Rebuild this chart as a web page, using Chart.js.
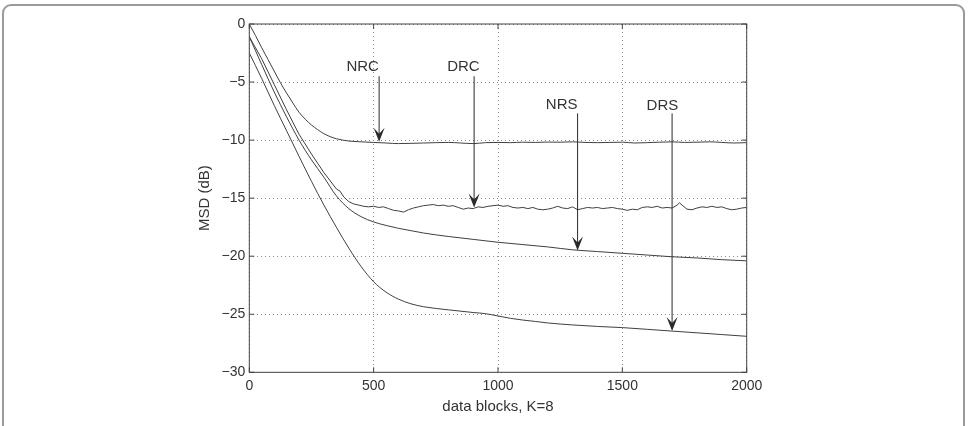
<!DOCTYPE html>
<html>
<head>
<meta charset="utf-8">
<script src="https://cdn.jsdelivr.net/npm/chart.js@4"></script>
<style>
  html, body { margin: 0; padding: 0; background: #fff; }
  #wrap { position: relative; width: 970px; height: 426px; overflow: hidden; }
  #moldura { position: absolute; left: 2px; top: 4px; width: 963px; height: 460px;
             border: 2px solid #9a9a9a; border-radius: 9px; box-sizing: border-box; }
  #myChart { position: absolute; left: 0; top: 0; }
</style>
</head>
<body>
<div id="wrap">
  <div id="moldura"></div>
  <canvas id="myChart" width="970" height="426"></canvas>
</div>
<script>
// curvas MSD (dB) x blocos de dados
const nrcX = [0, 25, 50, 75, 100, 125, 150, 175, 200, 225, 250, 275, 300, 325, 350, 375, 400, 450,
  500, 550, 600, 650, 700, 750, 800, 850, 900, 950, 1000, 1050, 1100, 1150, 1200, 1250, 1300, 1350,
  1400, 1450, 1500, 1550, 1600, 1650, 1700, 1750, 1800, 1850, 1900, 1950, 2000];
const nrcY = [0, -1.0, -2.05, -3.05, -4.05, -5.05, -5.95, -6.8, -7.6, -8.2, -8.7, -9.1, -9.45, -9.7, -9.88, -10.0, -10.08, -10.15,
  -10.2, -10.25, -10.3, -10.28, -10.25, -10.22, -10.2, -10.25, -10.3, -10.22, -10.2, -10.22, -10.18, -10.2, -10.17, -10.18, -10.15, -10.2,
  -10.22, -10.2, -10.18, -10.25, -10.22, -10.18, -10.15, -10.2, -10.18, -10.15, -10.2, -10.25, -10.22];

const drcX = [0, 50, 100, 150, 200, 250, 275, 300, 325, 350, 365, 380, 400, 420, 440, 460, 480,
  500, 520, 540, 560, 580, 600, 620, 640, 660, 680, 700, 720, 740, 760, 780, 800, 820, 840, 860, 880,
  900, 920, 940, 960, 980, 1000, 1020, 1040, 1060, 1080, 1100, 1120, 1140, 1160, 1180, 1200, 1220, 1240,
  1260, 1280, 1300, 1320, 1340, 1360, 1380, 1400, 1420, 1440, 1460, 1480, 1500, 1520, 1540, 1560, 1580,
  1600, 1620, 1640, 1660, 1680, 1700, 1720, 1730, 1740, 1760, 1780, 1800, 1820, 1840, 1860, 1880, 1900,
  1920, 1940, 1960, 1980, 2000];
const drcY = [-1.1, -3.0, -5.2, -7.4, -9.5, -11.2, -12.0, -12.8, -13.5, -14.2, -14.4, -14.9, -15.3, -15.5, -15.6, -15.7, -15.75,
  -15.7, -15.8, -15.75, -15.9, -16.05, -16.1, -16.2, -16.0, -15.85, -15.75, -15.65, -15.6, -15.55, -15.65, -15.6, -15.7, -15.65, -15.8, -15.95, -15.85,
  -15.9, -15.75, -15.8, -15.7, -15.65, -15.6, -15.7, -15.65, -15.8, -15.85, -15.8, -15.9, -15.8, -15.95, -16.0, -15.95, -15.85, -15.7,
  -15.85, -15.9, -15.75, -16.0, -15.9, -15.8, -15.85, -15.8, -15.9, -15.85, -15.8, -15.9, -15.95, -16.05, -15.95, -16.0, -15.8,
  -15.75, -15.8, -15.7, -15.85, -15.8, -15.85, -15.6, -15.4, -15.6, -15.95, -16.0, -15.85, -15.75, -15.8, -15.7, -15.8, -15.75,
  -15.9, -16.0, -15.95, -15.85, -15.8];

const nrsX = [0, 50, 100, 150, 200, 250, 300, 350, 400, 450, 500, 550, 600, 650, 700, 800, 900, 1000,
  1100, 1200, 1300, 1400, 1500, 1600, 1700, 1800, 1900, 2000];
const nrsY = [-1.1, -3.5, -5.85, -8.0, -10.0, -11.7, -13.2, -14.8, -15.9, -16.6, -17.05, -17.35, -17.6, -17.8, -18.0, -18.3, -18.55, -18.8,
  -19.0, -19.2, -19.45, -19.6, -19.75, -19.9, -20.05, -20.15, -20.3, -20.4];

const drsX = [0, 50, 100, 150, 200, 250, 300, 350, 400, 450, 500, 550, 600, 650, 700, 800, 900, 950, 1000,
  1050, 1100, 1150, 1200, 1300, 1400, 1500, 1600, 1700, 1800, 1900, 2000];
const drsY = [-2.5, -4.7, -7.0, -9.2, -11.4, -13.55, -15.6, -17.5, -19.3, -20.9, -22.2, -23.1, -23.7, -24.1, -24.35, -24.62, -24.85, -24.95, -25.15,
  -25.35, -25.5, -25.62, -25.75, -25.92, -26.05, -26.15, -26.3, -26.45, -26.6, -26.75, -26.9];

// setas com rotulo (em unidades dos eixos)
const setaNomes = ['NRC', 'DRC', 'NRS', 'DRS'];
const setaX = [522, 904, 1320, 1700];
const setaTopo = [-4.5, -4.5, -7.7, -7.7];
const setaPonta = [-10.14, -15.8, -19.5, -26.45];
const rotuloX = [456, 861, 1256, 1661];
const rotuloY = [-3.68, -3.65, -6.93, -7.05];

const xTicks = [0, 500, 1000, 1500, 2000];
const yTicks = [-30, -25, -20, -15, -10, -5, 0];

const corLinha = '#404040';
const corTexto = '#333';

function pontos(xs, ys) {
  return xs.map((x, i) => ({ x: x, y: ys[i] }));
}

function serie(nome, xs, ys, suave) {
  return {
    label: nome,
    data: pontos(xs, ys),
    borderColor: corLinha,
    borderWidth: 1,
    pointRadius: 0,
    fill: false,
    tension: suave ? 0.4 : 0,
    cubicInterpolationMode: suave ? 'monotone' : 'default'
  };
}

const molduraPlugin = {
  id: 'moldura',
  afterDatasetsDraw(chart) {
    const { ctx, chartArea: a, scales } = chart;
    ctx.save();
    ctx.strokeStyle = '#444';
    ctx.lineWidth = 1;
    ctx.strokeRect(a.left, a.top, a.right - a.left, a.bottom - a.top);
    ctx.beginPath();
    xTicks.forEach(v => {
      const px = scales.x.getPixelForValue(v);
      ctx.moveTo(px, a.bottom); ctx.lineTo(px, a.bottom - 5);
      ctx.moveTo(px, a.top); ctx.lineTo(px, a.top + 5);
    });
    yTicks.forEach(v => {
      const py = scales.y.getPixelForValue(v);
      ctx.moveTo(a.left, py); ctx.lineTo(a.left + 5, py);
      ctx.moveTo(a.right, py); ctx.lineTo(a.right - 5, py);
    });
    ctx.stroke();
    ctx.restore();
  }
};

const setasPlugin = {
  id: 'setas',
  afterDatasetsDraw(chart) {
    const { ctx, scales } = chart;
    ctx.save();
    ctx.strokeStyle = '#2a2a2a';
    ctx.fillStyle = '#2a2a2a';
    ctx.lineWidth = 1;
    ctx.font = '15px "Liberation Sans", Arial, sans-serif';
    ctx.textAlign = 'center';
    ctx.textBaseline = 'middle';
    setaNomes.forEach((nome, i) => {
      const px = scales.x.getPixelForValue(setaX[i]);
      const y0 = scales.y.getPixelForValue(setaTopo[i]);
      const y1 = scales.y.getPixelForValue(setaPonta[i]);
      ctx.beginPath();
      ctx.moveTo(px, y0);
      ctx.lineTo(px, y1 - 6);
      ctx.stroke();
      ctx.beginPath();
      ctx.moveTo(px, y1);
      ctx.lineTo(px - 5.5, y1 - 14);
      ctx.lineTo(px, y1 - 8);
      ctx.lineTo(px + 5.5, y1 - 14);
      ctx.closePath();
      ctx.fill();
      ctx.fillStyle = corTexto;
      ctx.fillText(nome, scales.x.getPixelForValue(rotuloX[i]), scales.y.getPixelForValue(rotuloY[i]));
      ctx.fillStyle = '#2a2a2a';
    });
    ctx.restore();
  }
};

const fonteEixo = { family: '"Liberation Sans", Arial, sans-serif', size: 14 };
const fonteTitulo = { family: '"Liberation Sans", Arial, sans-serif', size: 15 };

const ctx = document.getElementById('myChart').getContext('2d');
const grafico = new Chart(ctx, {
  type: 'line',
  data: {
    datasets: [
      serie('NRC', nrcX, nrcY, true),
      serie('DRC', drcX, drcY, false),
      serie('NRS', nrsX, nrsY, true),
      serie('DRS', drsX, drsY, true)
    ]
  },
  options: {
    responsive: false,
    devicePixelRatio: 1,
    animation: false,
    layout: { padding: { left: 0, top: 24, right: 223.3, bottom: 0 } },
    plugins: {
      legend: { display: false },
      tooltip: { enabled: false }
    },
    scales: {
      x: {
        type: 'linear',
        min: 0,
        max: 2000,
        afterFit: (s) => { s.height = 53.7; },
        afterBuildTicks: (s) => { s.ticks = xTicks.map(v => ({ value: v })); },
        ticks: { color: corTexto, font: fonteEixo, padding: 5, maxRotation: 0,
          callback: (v) => String(v) },
        grid: { color: '#8a8a8a', lineWidth: 1, drawTicks: false },
        border: { display: false, dash: [1, 3] },
        title: { display: true, text: 'data blocks, K=8', color: corTexto, font: fonteTitulo, padding: { top: 0, bottom: 10 } }
      },
      y: {
        type: 'linear',
        min: -30,
        max: 0,
        afterFit: (s) => { s.width = 249.3; },
        afterBuildTicks: (s) => { s.ticks = yTicks.map(v => ({ value: v })); },
        ticks: {
          color: corTexto, font: fonteEixo, padding: 4,
          callback: (v) => String(v).replace('-', '\u2212')
        },
        grid: { color: '#8a8a8a', lineWidth: 1, drawTicks: false },
        border: { display: false, dash: [1, 3] },
        title: { display: true, text: 'MSD (dB)', color: corTexto, font: fonteTitulo, padding: { top: 196, bottom: 0 } }
      }
    }
  },
  plugins: [molduraPlugin, setasPlugin]
});
</script>
</body>
</html>
